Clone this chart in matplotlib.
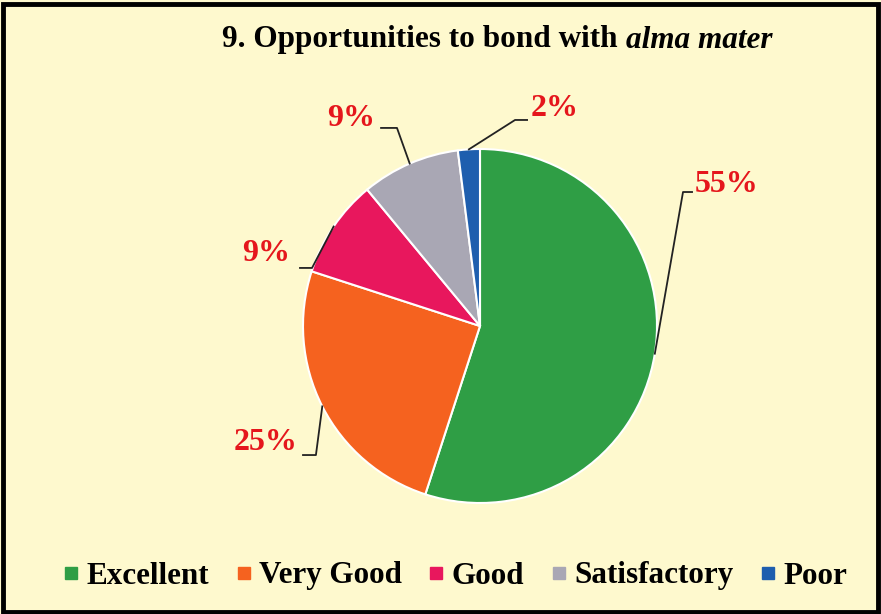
import matplotlib.pyplot as plt
from matplotlib.lines import Line2D
from matplotlib.patches import Rectangle
import numpy as np

categories = ['Excellent', 'Very Good', 'Good', 'Satisfactory', 'Poor']
values = [55, 25, 9, 9, 2]
colors = ['#2F9E45', '#F5621F', '#E8175D', '#A9A7B4', '#1E5EAE']
pct_labels = ['55%', '25%', '9%', '9%', '2%']

bg = '#FEF9CE'
red = '#E5161C'
serif = ['Liberation Serif', 'DejaVu Serif']

fig = plt.figure(figsize=(8.81, 6.14), dpi=100, facecolor=bg)

# pie centre ~ (480, 326) px, radius ~177 px
W, H = 881, 614
cx, cy, r = 480, 326, 177
ax = fig.add_axes([(cx - r) / W, (H - cy - r) / H, 2 * r / W, 2 * r / H])
ax.set_facecolor('none')
wedges, _ = ax.pie(values, colors=colors, startangle=90, counterclock=False,
                   wedgeprops=dict(edgecolor='white', linewidth=1.5))
ax.set_xlim(-1, 1)
ax.set_ylim(-1, 1)
ax.set_aspect('equal')
ax.axis('off')

# leader lines: elbow point, end point, text position, alignment
leaders = [
    ((1.147, 0.757), 1.198, (1.215, 0.80), 'left'),
    ((-0.927, -0.729), -1.0, (-1.03, -0.66), 'right'),
    ((-0.949, 0.328), -1.017, (-1.07, 0.41), 'right'),
    ((-0.469, 1.119), -0.559, (-0.59, 1.175), 'right'),
    ((0.198, 1.164), 0.266, (0.285, 1.23), 'left'),
]
for w, lab, (elbow, xend, tpos, ha) in zip(wedges, pct_labels, leaders):
    mid = np.deg2rad((w.theta1 + w.theta2) / 2)
    x0, y0 = np.cos(mid), np.sin(mid)
    ax.plot([x0, elbow[0], xend], [y0, elbow[1], elbow[1]], color='#222222',
            lw=1.3, clip_on=False)
    ax.text(tpos[0], tpos[1], lab, ha=ha, va='center', color=red,
            fontsize=23, fontweight='bold', family=serif, clip_on=False)

# title: bold part + bold italic part
fig.text(618 / W, 1 - 40 / H, '9. Opportunities to bond with', ha='right', va='center',
         fontsize=22.5, fontweight='bold', family=serif)
fig.text(626 / W, 1 - 40 / H, 'alma mater', ha='left', va='center',
         fontsize=22.5, fontweight='bold', fontstyle='italic', family=serif)

handles = [Line2D([], [], marker='s', color=c, linestyle='none', markersize=8.5)
           for c in colors]
fig.legend(handles, categories, loc='center', bbox_to_anchor=(456 / W, 1 - 576 / H),
           ncol=5, frameon=False, handlelength=0.4, handletextpad=0.3,
           columnspacing=0.9, borderpad=0, borderaxespad=0,
           prop=dict(family=serif, weight='bold', size=22.4))

fig.add_artist(Rectangle((0.003, 0.004), 0.994, 0.99, transform=fig.transFigure,
                         fill=False, edgecolor='black', linewidth=3.5))

fig.savefig('out.png', dpi=100, facecolor=bg)
